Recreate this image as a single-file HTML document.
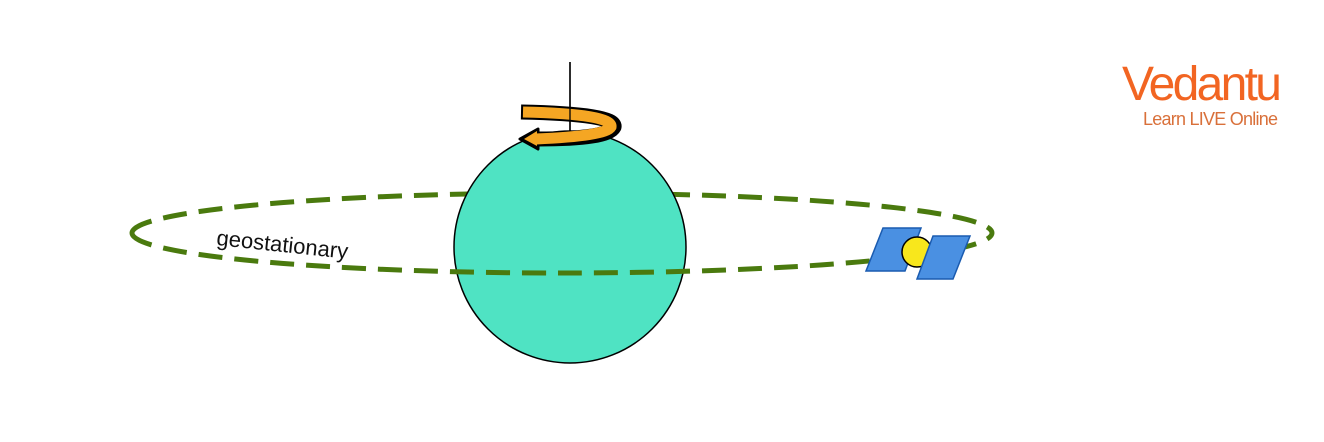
<!DOCTYPE html>
<html><head><style>body{margin:0;background:#fff}svg{display:block}</style></head>
<body>
<svg width="1324" height="442" xmlns="http://www.w3.org/2000/svg">
<path d="M132 233 A430 40 0 0 1 992 233" fill="none" stroke="#4a7a0e" stroke-width="5" stroke-dasharray="24,12"/>
<circle cx="570" cy="247" r="116" fill="#4fe3c3" stroke="#000" stroke-width="1.5"/>
<path d="M132 233 A430 40 0 0 0 992 233" fill="none" stroke="#4a7a0e" stroke-width="5" stroke-dasharray="24,12"/>
<line x1="570" y1="62" x2="570" y2="131" stroke="#000" stroke-width="1.5"/>
<path d="M521 112 Q617 114 614 127 Q608 139 538 139" fill="none" stroke="#000" stroke-width="15"/>
<polygon points="538,129 520,139 538,149" fill="#000" stroke="#000" stroke-width="3" stroke-linejoin="round"/>
<path d="M523 112 Q613 114 611 127 Q606 136 536 139" fill="none" stroke="#f5a623" stroke-width="11"/>
<polygon points="537,131 524,139 537,146" fill="#f5a623"/>
<line x1="570" y1="62" x2="570" y2="131" stroke="#000" stroke-width="1.3"/>
<text x="216" y="245" font-family="Liberation Sans, sans-serif" font-size="22" fill="#111" transform="rotate(6 216 245)">geostationary</text>
<polygon points="883,228 921,228 905,271 866,271" fill="#4a90e2" stroke="#1a5bb0" stroke-width="1.5"/>
<circle cx="917" cy="252" r="15" fill="#f8e71c" stroke="#000" stroke-width="1.5"/>
<polygon points="933,236 970,236 953,279 917,279" fill="#4a90e2" stroke="#1a5bb0" stroke-width="1.5"/>
<text x="1122" y="100" font-family="Liberation Sans, sans-serif" font-size="48" fill="#f26522" textLength="160">Vedantu</text>
<text x="1143" y="125" font-family="Liberation Sans, sans-serif" font-size="18" fill="#d9703a" textLength="135">Learn LIVE Online</text>
</svg>
</body></html>
